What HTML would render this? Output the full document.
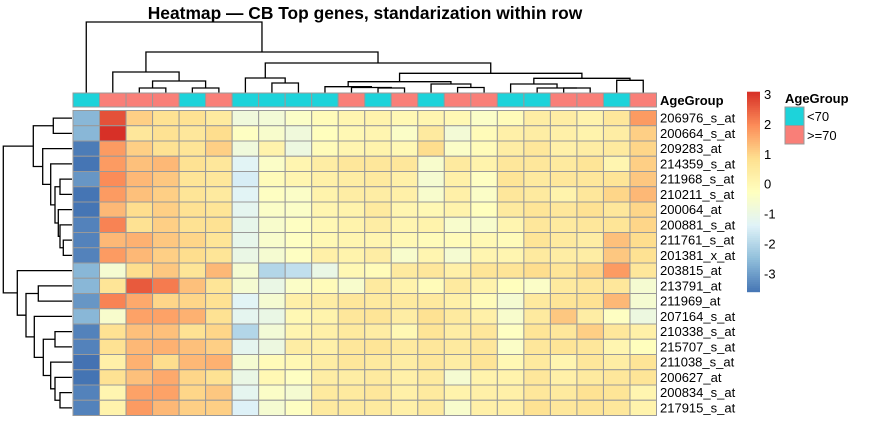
<!DOCTYPE html>
<html><head><meta charset="utf-8">
<style>
html,body{margin:0;padding:0;background:#fff;}
svg{display:block;font-family:"Liberation Sans",Arial,sans-serif;}
</style></head>
<body>
<svg id="chart" width="874" height="422" viewBox="0 0 874 422" xmlns="http://www.w3.org/2000/svg">
<text x="365" y="19" text-anchor="middle" font-size="17.4" font-weight="bold">Heatmap — CB Top genes, standarization within row</text>
<g id="coldendro"></g>
<g id="rowdendro"></g>
<g id="annot"></g>
<text x="660" y="105" font-size="13" font-weight="bold">AgeGroup</text>
<g id="cells"></g>
<g id="rowlabels"></g>
<g id="colorbar"></g>
<g>
<text x="785" y="103" font-size="13" font-weight="bold">AgeGroup</text>
<rect x="785" y="107" width="19" height="18.5" fill="#1DD3DA" stroke="#999" stroke-width="1"/>
<rect x="785" y="125.5" width="19" height="18.5" fill="#F97F78" stroke="#999" stroke-width="1"/>
<text x="807" y="121" font-size="13">&lt;70</text>
<text x="807" y="140" font-size="13">&gt;=70</text>
</g>
</svg>
<script>
const genes = ["206976_s_at","200664_s_at","209283_at","214359_s_at","211968_s_at","210211_s_at","200064_at","200881_s_at","211761_s_at","201381_x_at","203815_at","213791_at","211969_at","207164_s_at","210338_s_at","215707_s_at","211038_s_at","200627_at","200834_s_at","217915_s_at"];
const ageGroups = [0,1,1,1,0,1,0,0,0,0,1,0,1,0,1,1,0,0,1,1,0,1];
const values = [
[-2.6,2.7,1.1,0.8,0.8,0.5,-0.8,-0.7,-0.4,-0.1,0.1,0.2,0.0,0.1,0.0,-0.4,-0.1,0.4,0.4,0.2,0.6,1.8],
[-2.6,3.1,0.6,0.8,0.6,0.9,-0.3,-0.5,-0.8,-0.2,0.0,0.1,-0.4,0.5,-0.7,-0.1,0.3,0.4,0.3,0.2,0.4,1.1],
[-3.5,1.8,1.1,0.8,0.7,1.1,-0.8,0.2,-0.9,-0.1,0.1,0.2,0.0,0.9,-0.4,-0.1,0.4,0.6,0.3,0.4,0.5,1.0],
[-3.6,1.8,1.3,1.4,0.8,0.6,-1.3,-0.4,0.1,0.4,0.6,0.6,0.6,-0.5,0.5,0.2,0.6,0.6,0.5,0.7,0.1,1.1],
[-3.1,2.0,1.4,1.2,0.7,0.6,-1.5,-0.1,0.1,0.3,0.4,0.5,0.3,-0.6,0.3,-0.3,0.7,0.5,0.6,0.6,0.7,1.2],
[-3.6,1.8,1.3,1.1,0.7,0.5,-1.3,-0.3,-0.4,0.2,0.4,0.4,0.3,-0.5,0.3,-0.4,0.6,0.5,0.2,0.6,1.0,1.4],
[-3.6,1.4,0.9,1.1,0.8,0.7,-1.2,-0.4,-0.4,0.1,0.2,0.5,0.1,0.0,0.2,-0.2,0.5,0.7,0.6,0.8,0.6,1.0],
[-3.4,2.1,0.8,1.1,0.8,0.8,-1.1,-0.5,-0.3,0.0,0.2,0.4,0.1,0.2,-0.5,-0.5,0.1,0.6,0.5,0.6,0.7,1.0],
[-3.4,1.4,1.5,1.2,1.0,0.7,-1.1,-0.5,-0.3,0.0,0.1,0.1,0.0,-0.1,-0.1,0.0,-0.1,0.7,0.5,0.4,1.3,0.9],
[-3.4,1.8,1.4,1.1,0.9,0.7,-1.0,-0.6,-0.3,0.3,0.2,0.4,-0.5,0.1,-0.6,0.1,0.1,0.5,0.4,0.4,1.2,0.8],
[-2.6,-0.6,0.9,1.2,0.7,1.4,-0.6,-2.0,-1.8,-1.0,0.0,-0.1,0.5,0.6,0.3,0.7,0.7,0.9,0.7,1.0,1.8,0.6],
[-2.6,0.7,2.6,2.2,1.3,0.7,-0.6,-1.0,-0.4,-0.1,-0.5,0.5,0.2,-0.1,0.5,0.2,-0.2,-0.4,0.5,0.6,0.6,-0.6],
[-3.1,2.1,1.6,1.0,1.0,0.8,-1.3,-0.6,0.3,0.4,0.6,0.5,0.5,0.5,0.3,-0.1,-0.6,0.5,0.7,0.8,1.4,-0.6],
[-2.6,-0.5,1.7,1.7,1.5,0.8,-1.2,-1.0,0.0,0.2,0.6,0.7,0.4,0.8,0.5,0.3,-0.5,0.5,1.2,0.4,-0.3,-0.9],
[-3.4,0.8,1.3,1.3,0.8,1.0,-2.0,-0.7,0.1,0.3,0.5,0.4,0.0,0.7,0.4,0.6,-0.3,0.7,0.6,1.1,0.6,0.3],
[-3.4,0.8,1.4,1.5,1.3,1.1,-1.2,-0.9,0.4,0.3,0.6,0.7,0.5,0.6,0.5,0.6,-0.4,0.6,0.7,0.6,0.1,-0.2],
[-3.8,0.3,1.5,0.9,1.4,1.5,-0.6,-0.1,0.0,0.4,0.6,0.5,0.4,0.6,0.4,0.7,0.0,0.5,0.1,0.6,0.4,0.7],
[-3.7,0.8,1.3,1.6,1.0,0.8,-1.0,0.0,-0.3,0.4,0.4,0.5,0.3,0.5,-0.6,0.2,0.2,0.6,0.3,0.5,0.6,0.7],
[-3.4,0.1,1.7,1.7,1.0,1.2,-1.2,-0.4,-0.6,0.5,0.5,0.6,0.3,0.5,0.2,0.3,0.3,0.6,0.5,0.8,0.7,0.1],
[-3.4,0.2,1.8,1.4,1.1,1.1,-1.4,-0.6,-0.3,0.5,0.5,0.5,0.3,0.5,-0.5,0.3,0.3,0.8,0.6,0.7,0.6,0.2]
];
const scaleTicks = [3,2,1,0,-1,-2,-3];
const scaleMin = -3.6, scaleMax = 3.1;
// dendrogram trees: leaf = index, node = [height, left, right]
const colTree = [0, 0, [1, [2, 1, [3, [4, 2, 3], [4, 4, 5]]], [2.6, [3.4, 6, [4.2, 7, 8]], [3.6, [4.3, [4.7, 9, [4.85, 10, [4.9, 11, 12]]], [4.6, 13, [4.85, 14, 15]]], [4.4, [4.6, 16, [4.9, 17, [4.95, 18, 19]]], [4.5, 20, 21]]]]]];
const rowTree = [0, [1.0, [2.5, 0, 1], [1.3, 2, [1.6, 3, [1.8, [2.0, 4, 5], [1.9, 6, [2.0, 7, [2.1, 8, 9]]]]]]], [0.5, 10, [0.8, [1.2, 11, 12], [1.1, 13, [1.4, [1.8, 14, 15], [1.7, 16, [1.8, 17, [2.0, 18, 19]]]]]]]];

const NS = "http://www.w3.org/2000/svg";
const X0 = 73, X1 = 656.5, Y0 = 110.5, Y1 = 415.5;
const nCol = values[0].length, nRow = values.length;
const cw = (X1 - X0) / nCol, rh = (Y1 - Y0) / nRow;
const xPos = i => X0 + i * cw;
const yPos = j => Y0 + j * rh;
const palette = ["#4575B4","#91BFDB","#E0F3F8","#FFFFBF","#FEE090","#FC8D59","#D73027"];
function hex(c){return [1,3,5].map(k=>parseInt(c.substr(k,2),16));}
function color(v){
  let t = (v - scaleMin) / (scaleMax - scaleMin);
  let dark = 0;
  if (t < 0) { dark = Math.min(1, -t * 4); t = 0; }
  t = Math.min(1, t);
  const p = t * (palette.length - 1), k = Math.min(Math.floor(p), palette.length - 2), f = p - k;
  const a = hex(palette[k]), b = hex(palette[k+1]);
  let c = a.map((x,i)=>x + (b[i]-x)*f);
  if (dark) { const d = [0x3B,0x5E,0xA6]; c = c.map((x,i)=>x + (d[i]-x)*dark); }
  return "rgb(" + c.map(Math.round).join(",") + ")";
}
function mk(tag, attrs, parent){const e=document.createElementNS(NS,tag);for(const k in attrs)e.setAttribute(k,attrs[k]);parent.appendChild(e);return e;}

const cells = document.getElementById("cells");
values.forEach((row, j) => row.forEach((v, i) => {
  const r = mk("rect", {x:xPos(i), y:yPos(j), width:cw, height:rh, fill:color(v), stroke:"#999", "stroke-width":1}, cells);
  
  
}));
const annot = document.getElementById("annot");
ageGroups.forEach((g, i) => {
  const r = mk("rect", {x:xPos(i), y:93, width:cw, height:14, fill:g ? "#F97F78" : "#1DD3DA", stroke:"#999", "stroke-width":1}, annot);
  
  
});
const rl = document.getElementById("rowlabels");
genes.forEach((g, j) => {
  const t = mk("text", {x:660, y:yPos(j) + rh/2 + 4.5, "font-size":13}, rl);
  t.textContent = g;
  
  
});
// color bar
const cb = document.getElementById("colorbar");
const CB0 = 91.7, CB1 = 291.7;
const yScale = v => CB1 - (v - scaleMin) / (scaleMax - scaleMin) * (CB1 - CB0);
for (let k = 0; k < 100; k++) {
  const v0 = scaleMin + (scaleMax - scaleMin) * k / 100, v1 = scaleMin + (scaleMax - scaleMin) * (k+1) / 100;
  const r = mk("rect", {x:747, y:yScale(v1), width:13, height:yScale(v0)-yScale(v1)+0.5, fill:color((v0+v1)/2)}, cb);
  
  
}
scaleTicks.forEach(v => {
  const t = mk("text", {x:764, y:yScale(v) + 4.5, "font-size":13}, cb);
  t.textContent = v;
  
  
});
function drawTree(tree, pos, hToC, leafC, vertical, g){
  function rec(n){
    if (typeof n === "number") return [pos(n), leafC];
    const a = rec(n[1]), b = rec(n[2]), c = hToC(n[0]);
    let d;
    if (vertical) d = "M"+a[0]+","+a[1]+"V"+c+"H"+b[0]+"V"+b[1];
    else d = "M"+a[1]+","+a[0]+"H"+c+"V"+b[0]+"H"+b[1];
    const p = mk("path", {d:d, fill:"none", stroke:"#000", "stroke-width":1.3}, g);
    
    
    return [(a[0]+b[0])/2, c];
  }
  rec(tree);
}
const colH = {0:22,1:52,2:72,2.6:63,3:81,3.4:78,3.6:73.3,4:88,4.2:83,4.3:81.7,4.4:78.3,4.5:80.3,4.6:84,4.7:86.7,4.85:87.5,4.9:88,4.95:88};
drawTree(colTree, i => xPos(i) + cw/2, h => colH[h], 92.5, true, document.getElementById("coldendro"));
const rowHx = h => ({0:3.3,0.5:17.3,0.8:26,1.0:33.3,1.1:34.3,1.2:38.3,1.3:42.7,1.4:43.3,1.6:50.7,1.7:50.7,1.8:55,1.9:58.3,2.0:60,2.1:63.3,2.5:53.3})[h];
drawTree(rowTree, j => yPos(j) + rh/2, rowHx, 72, false, document.getElementById("rowdendro"));
</script>
</body></html>
